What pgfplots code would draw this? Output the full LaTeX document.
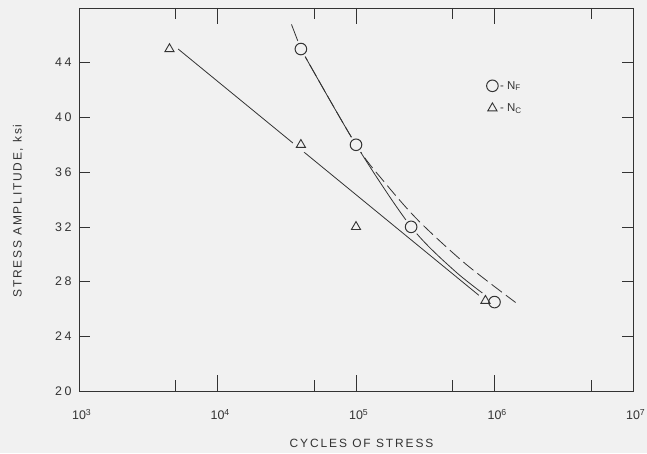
\documentclass[border=0pt]{standalone}
\usepackage{fontspec}
\setmainfont{Liberation Sans}
\newfontfamily\ytickfont{Liberation Sans}[LetterSpace=20]
\newfontfamily\xlabfont{Liberation Sans}[LetterSpace=16]
\newfontfamily\ylabfont{Liberation Sans}[LetterSpace=15]
\usepackage{pgfplots}
\pgfplotsset{compat=1.18}
\usetikzlibrary{backgrounds}
\definecolor{bg}{HTML}{F1F1F1}
\definecolor{ink}{HTML}{333333}
\begin{document}
\begin{tikzpicture}
\begin{axis}[
  scale only axis, width=554bp, height=383bp,
  xmode=log, log basis x=10,
  xmin=1e3, xmax=1e7, ymin=20, ymax=48,
  xtick={5e3,5e4,5e5,5e6}, xticklabels={},
  extra x ticks={1e3,1e4,1e5,1e6,1e7},
  extra x tick labels={10\rlap{\textsuperscript{3}},10\rlap{\textsuperscript{4}},10\rlap{\textsuperscript{5}},10\rlap{\textsuperscript{6}},10\rlap{\textsuperscript{7}}},
  extra x tick style={major tick length=16bp},
  ytick={20,24,28,32,36,40,44},
  tick align=inside, major tick length=11bp,
  axis line style={ink, line width=0.8bp},
  tick style={ink, line width=0.7bp},
  /pgf/number format/assume math mode=true,
  xticklabel style={font=\fontsize{12.5}{13}\selectfont, text=ink, yshift=-15bp},
  yticklabel style={font=\ytickfont\fontsize{12.5}{13}\selectfont, text=ink, xshift=-4bp},
  xlabel={CYCLES OF STRESS},
  xlabel style={at={([yshift=-52bp]rel axis cs:0.51,0)}, anchor=center, font=\xlabfont\fontsize{12}{13}\selectfont, text=ink},
  ylabel={STRESS AMPLITUDE, ksi},
  ylabel style={at={([xshift=-61bp]rel axis cs:0,0.47)}, anchor=center, font=\ylabfont\fontsize{12}{13}\selectfont, text=ink},
  legend style={draw=none, fill=none, at={(rel axis cs:0.73,0.82)}, anchor=north west,
    font=\fontsize{11.5}{12}\selectfont, text=ink, row sep=9bp},
  legend cell align=left,
]
% N_C straight line
\addplot[ink, line width=0.8bp, forget plot] coordinates {(5.2e3,45) (7.7e5,27)};
% N_F solid curve: short straight lead-in above the top point, then the curve
\addplot[ink, line width=0.8bp, forget plot] coordinates {(3.42e4,46.8) (4e4,45)};
\addplot[ink, line width=0.8bp, smooth, forget plot] coordinates {
 (4e4,45) (1e5,38) (2.5e5,32) (5.2e5,28.75) (1e6,26.5)};
% N_F dashed curve
\addplot[ink, line width=0.8bp, smooth, dash pattern=on 13bp off 5bp, forget plot] coordinates {
 (4e4,45) (1e5,38) (1.61e5,35.25) (2.82e5,32.46) (6.17e5,29.3) (1.42e6,26.47)};
% halos (background-coloured discs that open the lines round each mark)
\addplot[only marks, mark=*, mark size=8.5bp, color=bg, forget plot] coordinates {
 (4e4,45) (1e5,38) (2.5e5,32) (1e6,26.5)};
\addplot[only marks, mark=*, mark size=8bp, color=bg, forget plot] coordinates {
 (4.5e3,45) (4e4,38) (1e5,32) (8.6e5,26.6)};
% marks
\addplot[only marks, mark=o, mark size=5.8bp, color=ink, mark options={line width=1bp}] coordinates {
 (4e4,45) (1e5,38) (2.5e5,32) (1e6,26.5)};
\addplot[only marks, mark=triangle, mark size=5.3bp, color=ink, mark options={line width=0.9bp}] coordinates {
 (4.5e3,45) (4e4,38) (1e5,32) (8.6e5,26.6)};
\legend{- N\textsubscript{F}, - N\textsubscript{C}}
\coordinate (sw) at (rel axis cs:0,0);
\coordinate (ne) at (rel axis cs:1,1);
\end{axis}
\pgfresetboundingbox
\begin{pgfonlayer}{background}
\fill[bg] ([xshift=-79bp,yshift=-62bp]sw) rectangle ([xshift=14bp,yshift=8bp]ne);
\end{pgfonlayer}
\end{tikzpicture}
\end{document}
